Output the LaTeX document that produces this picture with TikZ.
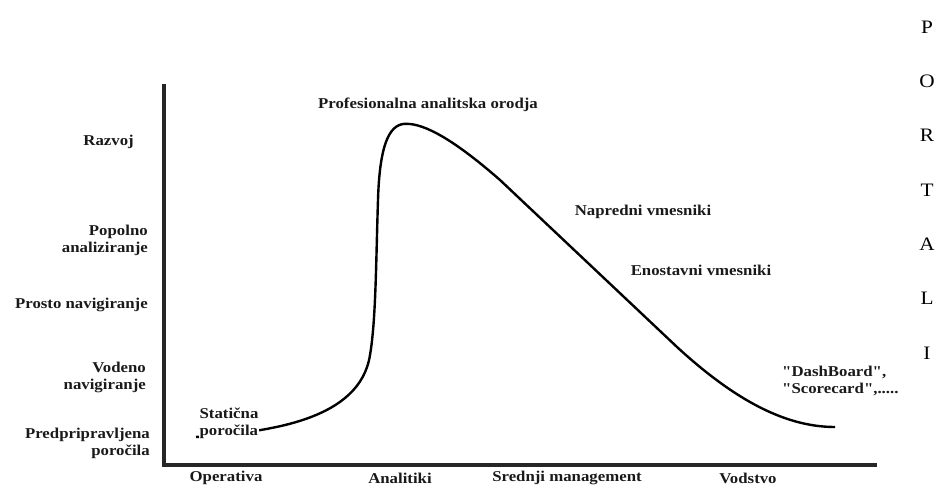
\documentclass[tikz,border=0pt]{standalone}
\usepackage{fontspec}
\setmainfont{Liberation Serif}[FakeStretch=1.12, Ligatures=TeXOff]
\begin{document}
\begin{tikzpicture}[x=1pt,y=-1pt,
  lbl/.style={font=\fontsize{15}{17}\selectfont\bfseries, inner sep=0pt, text=black!90},
  ylbl/.style={lbl, anchor=east, align=right},
  xlbl/.style={lbl, anchor=center},
  portal/.style={font=\fontsize{19}{21}\selectfont, inner sep=0pt, anchor=center},
  axisline/.style={line width=3.6pt, black!85},
  trend/.style={line width=2.4pt, black}]
\useasboundingbox (0,0) rectangle (939,489);

% axes
\coordinate (ytop) at (164,84);
\coordinate (orig) at (164,465);
\coordinate (xend) at (877,465);
\draw[axisline] (ytop) -- (orig) -- (xend);

% vertical axis labels
\node[ylbl] (razvoj) at (134,142) {Razvoj};
\node[ylbl] (popolno) at (148,240) {Popolno\\analiziranje};
\node[ylbl] (prosto) at (148,305) {Prosto navigiranje};
\node[ylbl] (vodeno) at (146,377) {Vodeno\\navigiranje};
\node[ylbl] (predpr) at (150,443) {Predpripravljena\\poročila};

% horizontal axis labels
\node[xlbl] (operativa) at (226,478) {Operativa};
\node[xlbl] (analitiki) at (400,478) {Analitiki};
\node[xlbl] (srednji) at (567,478) {Srednji management};
\node[xlbl] (vodstvo) at (748,478) {Vodstvo};

% curve of tools
\coordinate (cstart) at (196,437);
\coordinate (cpeak) at (410,124);
\coordinate (cend) at (835,427);
\draw[trend] (cstart) .. controls (270,432) and (360,420) .. (370,355)
  .. controls (376,320) and (376,260) .. (378,200)
  .. controls (380,130) and (395,122) .. (cpeak)
  .. controls (430,126) and (460,145) .. (500,180)
  -- (677,347)
  .. controls (740,405) and (790,427) .. (cend);

% labels along the curve
\node[lbl, align=left, fill=white, inner sep=1pt] (staticna) at (229,423) {Statična\\poročila};
\node[lbl] (prof) at (428,105) {Profesionalna analitska orodja};
\node[lbl] (napredni) at (643,212) {Napredni vmesniki};
\node[lbl] (enostavni) at (701,270) {Enostavni vmesniki};
\node[lbl, align=left, anchor=west] (dash) at (782,381) {"DashBoard",\\"Scorecard",.....};

% vertical word
\foreach \ch [count=\i from 0] in {P,O,R,T,A,L,I}
  \node[portal] (portal\i) at (927,{27+54.3*\i}) {\ch};
\end{tikzpicture}
\end{document}
